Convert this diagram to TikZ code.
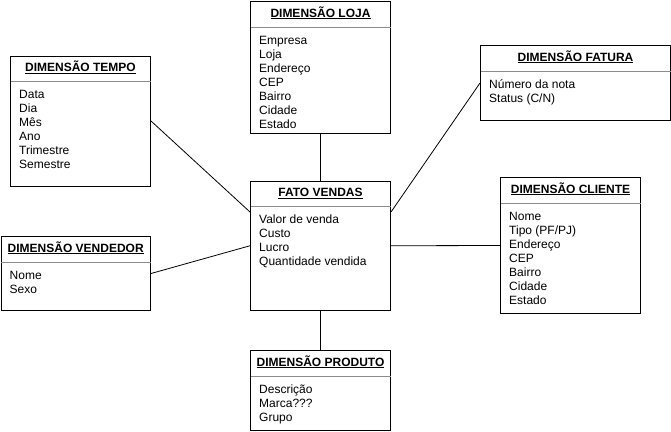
\documentclass[tikz,border=0pt]{standalone}
\usepackage{fontspec}
\setmainfont{Liberation Sans}
\usetikzlibrary{calc}
\tikzset{
  x=1pt, y=-1pt,
  ebox/.style={draw=black, line width=1pt, fill=white, inner sep=0pt, anchor=north west},
  etitle/.style={anchor=base, inner sep=0pt, font=\fontsize{12}{14}\selectfont\bfseries},
  eitem/.style={anchor=base west, inner sep=0pt, font=\fontsize{12}{14}\selectfont},
  esep/.style={draw=black!45, line width=1pt},
  conn/.style={draw=black, line width=0.8pt},
}
% name, left, top, width, height, title, items
\newcommand\entbox[7]{%
  \node[ebox, minimum width=#4pt, minimum height=#5pt] (#1) at (#2,#3) {};
  \draw[esep] ($(#1.north west)+(0.5,26)$) -- ($(#1.north east)+(-0.5,26)$);
  \node[etitle] (#1-t) at ($(#1.north)+(0,16)$) {\underline{#6}};
  \foreach \itm [count=\k from 0] in {#7} {
    \node[eitem] (#1-i\k) at ($(#1.north west)+(9,43+14*\k)$) {\itm};
  }
}
\begin{document}
\begin{tikzpicture}
\useasboundingbox (0,0) rectangle (671,431);
\entbox{tempo}{10}{55.5}{140}{130}{DIMENSÃO TEMPO}{Data,Dia,Mês,Ano,Trimestre,Semestre}
\entbox{loja}{250}{1}{140}{132}{DIMENSÃO LOJA}{Empresa,Loja,Endereço,CEP,Bairro,Cidade,Estado}
\entbox{fatura}{480}{45}{190}{75}{DIMENSÃO FATURA}{Número da nota,Status (C/N)}
\entbox{cliente}{500}{177}{140}{136}{DIMENSÃO CLIENTE}{Nome,Tipo (PF/PJ),Endereço,CEP,Bairro,Cidade,Estado}
\entbox{fato}{250}{180.5}{140}{129.5}{FATO VENDAS}{Valor de venda,Custo,Lucro,Quantidade vendida}
\entbox{vendedor}{0.5}{236}{149.5}{74}{DIMENSÃO VENDEDOR}{Nome,Sexo}
\entbox{produto}{250}{350}{140}{80}{DIMENSÃO PRODUTO}{Descrição,Marca???,Grupo}
\coordinate (fato-wl) at ($(fato.north west)+(0,31.5)$);
\coordinate (fato-el) at ($(fato.north east)+(0,31.5)$);
\draw[conn] (tempo.east) -- (fato-wl);
\draw[conn] (vendedor.east) -- (fato.west);
\draw[conn] (fatura.west) -- (fato-el);
\draw[conn] (cliente.west) -- (fato.east);
\draw[conn] (loja.south) -- (fato.north);
\draw[conn] (fato.south) -- (produto.north);
\end{tikzpicture}
\end{document}
